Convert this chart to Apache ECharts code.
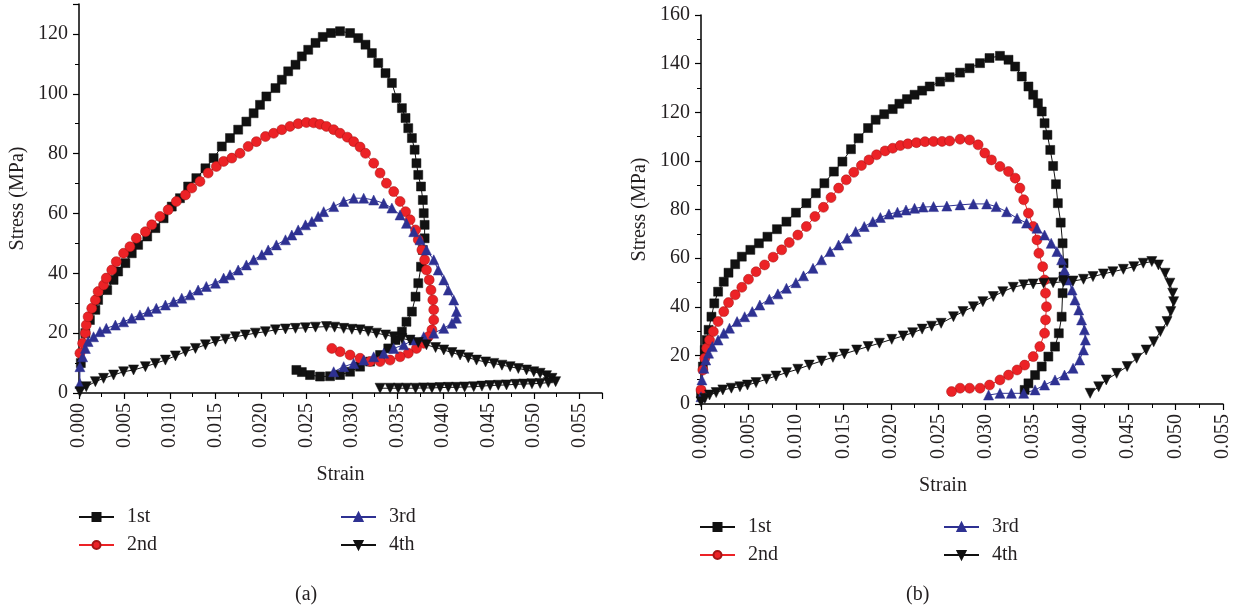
<!DOCTYPE html>
<html>
<head>
<meta charset="utf-8">
<title>Stress-strain</title>
<script src="https://cdn.jsdelivr.net/npm/echarts@6/dist/echarts.min.js"></script>
<style>
  html, body { margin: 0; padding: 0; background: #fff; }
  #main { width: 1241px; height: 612px; }
</style>
</head>
<body>
<div id="main"></div>
<script>
// (a) strain, stress pairs
var a1st = [[0.0002,10],[0.0007,20],[0.0012,24.4],[0.0018,27.8],[0.0021,31.1],[0.0031,34.4],[0.0038,37.8],[0.0043,40.6],[0.0051,43.4],[0.0058,46.7],[0.0065,49.5],[0.0075,52.3],[0.0084,55.1],[0.0093,58.4],[0.0102,62.3],[0.0111,65.1],[0.012,69],[0.0129,71.8],[0.0139,75.1],[0.0148,78.5],[0.0157,82.4],[0.0166,85.2],[0.0175,88],[0.0184,90.7],[0.0192,93.5],[0.0199,96.3],[0.0206,99.1],[0.0216,101.9],[0.0223,104.7],[0.023,107.5],[0.0238,109.7],[0.0245,112.5],[0.0252,114.7],[0.026,117],[0.0268,119],[0.0277,120.3],[0.0287,120.9],[0.0298,120.3],[0.0307,118.6],[0.0315,116.4],[0.0322,113.6],[0.0329,110.3],[0.0337,106.9],[0.0344,103.6],[0.0349,98.6],[0.0355,95.2],[0.0359,91.9],[0.0362,88.5],[0.0366,85.2],[0.0369,81.3],[0.0371,76.8],[0.0373,72.9],[0.0376,69],[0.0378,64.5],[0.0379,60.1],[0.038,56.2],[0.038,51.7],[0.0378,47.8],[0.0376,42.2],[0.0373,36.7],[0.037,32.2],[0.0366,27.2],[0.036,23.8],[0.0355,20.5],[0.0348,17.7],[0.034,14.9],[0.0331,12.7],[0.032,10.5],[0.0309,8.8],[0.0298,7.1],[0.0287,6],[0.0276,5.6],[0.0265,5.5],[0.0254,6],[0.0245,7],[0.0239,7.7]];
var a2nd = [[0.0001,13.3],[0.0004,16.6],[0.0007,20],[0.0008,22.7],[0.001,25.5],[0.0014,28.3],[0.0018,31.1],[0.0021,33.9],[0.0027,36.1],[0.003,38.4],[0.0036,41.1],[0.0041,43.9],[0.0049,46.7],[0.0056,48.9],[0.0063,51.7],[0.0073,53.9],[0.008,56.2],[0.0089,59],[0.0098,61.2],[0.0107,64],[0.0117,66.2],[0.0124,68.5],[0.0133,70.7],[0.0142,73.5],[0.0151,75.7],[0.0159,77.4],[0.0168,78.5],[0.0177,80.1],[0.0186,82.4],[0.0195,84],[0.0205,85.7],[0.0214,86.8],[0.0223,88],[0.0232,89.1],[0.0241,90],[0.025,90.4],[0.0258,90.3],[0.0265,89.8],[0.0272,89.1],[0.028,88],[0.0287,86.8],[0.0295,85.5],[0.0302,84],[0.0309,82.2],[0.0315,80.1],[0.0324,76.8],[0.0331,73.5],[0.0338,70.1],[0.0346,67.3],[0.0353,64],[0.0359,60.6],[0.0364,57.9],[0.037,54.5],[0.0373,51.2],[0.0377,47.8],[0.038,44.5],[0.0382,41.1],[0.0385,37.8],[0.0387,34.4],[0.0389,31.1],[0.039,27.8],[0.039,24.4],[0.0388,21.1],[0.0384,18.8],[0.0379,16.6],[0.0371,14.9],[0.0362,13.3],[0.0353,12.1],[0.0342,11],[0.0331,10.5],[0.032,10.5],[0.0309,11.6],[0.0298,12.7],[0.0287,13.8],[0.0278,14.9]];
var a3rd = [[0.0001,3.2],[0.0001,8.8],[0.0004,12.1],[0.0007,14.9],[0.001,17.2],[0.0016,18.8],[0.0023,20.5],[0.003,21.6],[0.004,22.7],[0.0049,23.8],[0.0058,25],[0.0067,26.1],[0.0076,27.2],[0.0085,28.3],[0.0095,29.4],[0.0104,30.5],[0.0113,31.7],[0.0122,32.8],[0.0131,34.4],[0.014,35.6],[0.015,36.7],[0.0159,38.4],[0.0166,39.5],[0.0175,41.1],[0.0184,42.8],[0.0192,44.5],[0.0201,46.2],[0.0208,47.8],[0.0217,49.5],[0.0227,51.2],[0.0234,52.8],[0.0241,54.5],[0.0249,56.2],[0.0256,57.3],[0.0263,59],[0.0269,60.6],[0.028,62.3],[0.0291,64],[0.0302,65.1],[0.0313,65.1],[0.0324,64.5],[0.0335,63.4],[0.0344,61.8],[0.0353,59.5],[0.036,56.7],[0.0368,53.9],[0.0375,51.2],[0.0382,47.8],[0.039,44.5],[0.0395,41.1],[0.0401,37.8],[0.0406,34.4],[0.0412,31.1],[0.0415,27.2],[0.0415,25],[0.041,23.3],[0.0401,21.6],[0.039,20],[0.0379,18.8],[0.0368,17.7],[0.0357,16.1],[0.0346,14.9],[0.0335,13.3],[0.0324,12.1],[0.0313,11],[0.0302,9.9],[0.0291,8.8],[0.028,7.1]];
var a4th = [[0.0001,0.4],[0.0008,2.1],[0.0018,3.8],[0.0027,4.9],[0.0038,6],[0.0049,7.1],[0.006,7.7],[0.0073,8.8],[0.0084,9.9],[0.0095,11],[0.0106,12.4],[0.0117,13.8],[0.0128,14.9],[0.0139,16.1],[0.015,17.2],[0.0161,18],[0.0172,18.8],[0.0183,19.4],[0.0194,20],[0.0205,20.5],[0.0216,21.1],[0.0227,21.4],[0.0238,21.6],[0.0249,21.8],[0.026,22],[0.0272,22.2],[0.0281,22],[0.0291,21.6],[0.03,21.3],[0.0309,21.1],[0.0318,20.6],[0.0327,20],[0.0337,19.4],[0.0346,18.8],[0.0355,18.2],[0.0364,17.7],[0.0373,16.9],[0.0382,16.1],[0.0392,15.2],[0.0401,14.4],[0.041,13.5],[0.0419,12.7],[0.0428,11.8],[0.0437,11],[0.0447,10.4],[0.0456,9.9],[0.0465,9.3],[0.0474,8.8],[0.0483,8.2],[0.0492,7.7],[0.05,7.1],[0.0507,6.6],[0.0514,5.8],[0.052,4.9],[0.0524,3.8],[0.0516,3.5],[0.0507,3.2],[0.0498,3.1],[0.0489,3],[0.048,2.9],[0.047,2.7],[0.0461,2.6],[0.0452,2.5],[0.0443,2.3],[0.0434,2.1],[0.0424,2],[0.0415,1.9],[0.0406,1.9],[0.0397,1.8],[0.0388,1.7],[0.0379,1.7],[0.037,1.6],[0.036,1.6],[0.0351,1.6],[0.0342,1.6],[0.0331,1.6]];

// (b) strain, stress pairs
var b1st = [[0,4.4],[0.0002,15.4],[0.0004,22.2],[0.0006,26.3],[0.0008,30.5],[0.0011,35.9],[0.0014,41.4],[0.0018,46.2],[0.0024,50.3],[0.0029,54],[0.0036,57.5],[0.0043,60.6],[0.0052,63.4],[0.0061,66.1],[0.007,68.8],[0.008,71.9],[0.009,75],[0.01,78.7],[0.0111,82.6],[0.0121,86.7],[0.013,90.8],[0.014,95.6],[0.0149,99.7],[0.0158,104.8],[0.0166,109.3],[0.0176,113.5],[0.0184,116.9],[0.0193,119.2],[0.0202,121.3],[0.0209,123.5],[0.0217,125.4],[0.0225,127.2],[0.0233,128.9],[0.0241,130.6],[0.0252,132.6],[0.0262,134.4],[0.0273,136.3],[0.0283,138.1],[0.0294,140.2],[0.0304,142.3],[0.0315,143.2],[0.0324,141.6],[0.0331,138.8],[0.0338,134.7],[0.0345,130.6],[0.035,127.2],[0.0355,123.7],[0.0359,120.3],[0.0362,115.5],[0.0365,110.7],[0.0368,104.5],[0.0371,97.9],[0.0374,90.4],[0.0376,82.6],[0.0379,74.6],[0.0381,66.1],[0.0382,57.9],[0.0382,52.4],[0.0381,45.6],[0.038,35.9],[0.0377,29.1],[0.0373,23.6],[0.0366,19.5],[0.0359,15.4],[0.0352,11.9],[0.0345,8.5],[0.0341,5.8]];
var b2nd = [[0,5.8],[0.0002,14],[0.0004,18.8],[0.0006,22.9],[0.0009,26.3],[0.0013,29.8],[0.0018,33.9],[0.0024,38],[0.0029,41.7],[0.0036,44.9],[0.0043,48],[0.005,51.3],[0.0058,54.4],[0.0067,57.2],[0.0076,60.4],[0.0085,63.4],[0.0093,66.4],[0.0102,69.5],[0.0111,73],[0.012,77.1],[0.0129,80.9],[0.0137,84.9],[0.0145,88.8],[0.0153,92.2],[0.0161,95.3],[0.0169,98.1],[0.0177,100.4],[0.0185,102.5],[0.0194,104.1],[0.0202,105.2],[0.021,106.3],[0.0218,107],[0.0227,107.5],[0.0236,107.9],[0.0245,108],[0.0254,108],[0.0262,108.2],[0.0273,108.9],[0.0283,108.6],[0.0292,106.6],[0.0299,103.2],[0.0306,100.4],[0.0315,97.7],[0.0324,95.6],[0.0331,92.9],[0.0336,88.8],[0.034,84],[0.0345,78.5],[0.035,73],[0.0354,67.5],[0.0356,62],[0.036,56.5],[0.0362,51],[0.0363,45.6],[0.0364,40],[0.0363,34.6],[0.0362,29.1],[0.0357,23.6],[0.035,19.5],[0.0341,16],[0.0333,14],[0.0324,11.9],[0.0315,9.9],[0.0304,7.8],[0.0294,6.5],[0.0283,6.5],[0.0273,6.5],[0.0264,5.1]];
var b3rd = [[0,3],[0.0001,9.9],[0.0003,14.7],[0.0005,18.1],[0.0008,20.9],[0.0012,23.6],[0.0018,26.3],[0.0024,29.1],[0.003,31.2],[0.0038,33.9],[0.0046,35.9],[0.0054,38],[0.0062,40.7],[0.0072,43.1],[0.0081,45.3],[0.009,47.6],[0.01,49.9],[0.0108,52.7],[0.0118,55.8],[0.0127,59.3],[0.0136,62.7],[0.0145,65.4],[0.0154,68.2],[0.0163,70.9],[0.0172,73],[0.0181,75],[0.0189,76.7],[0.0198,78.1],[0.0207,78.9],[0.0216,79.8],[0.0225,80.5],[0.0234,81],[0.0245,81.2],[0.0259,81.4],[0.0273,81.9],[0.0287,82.3],[0.0301,82.3],[0.0311,81.2],[0.0322,79.1],[0.0333,76.4],[0.0343,74.4],[0.0354,72.3],[0.0362,69.5],[0.0369,66.1],[0.0375,62.7],[0.038,59.3],[0.0383,55.1],[0.0387,51],[0.0391,46.9],[0.0394,42.8],[0.0398,38.7],[0.0401,34.6],[0.0404,30.5],[0.0405,26.3],[0.0403,22.2],[0.0399,18.1],[0.0392,14.7],[0.0383,11.9],[0.0373,9.9],[0.0362,7.8],[0.0352,5.8],[0.034,4.4],[0.0327,4.4],[0.0315,4.4],[0.0303,3.7]];
var b4th = [[0,0.9],[0.0004,2.3],[0.0009,3.7],[0.0016,4.7],[0.0023,5.8],[0.0032,6.5],[0.0041,7.1],[0.0049,7.8],[0.0058,8.8],[0.0069,10.2],[0.0079,11.5],[0.009,12.9],[0.0102,14.3],[0.0114,16],[0.0127,17.7],[0.0139,19.2],[0.0151,20.6],[0.0164,22.2],[0.0176,23.6],[0.0188,25],[0.0201,26.6],[0.0213,28],[0.0223,29.3],[0.0233,30.8],[0.0243,32],[0.0253,33.2],[0.0266,35.9],[0.0276,38],[0.0287,40],[0.0297,42.1],[0.0308,44.2],[0.0318,46.2],[0.0329,48],[0.034,49],[0.035,49.4],[0.0361,49.7],[0.0371,49.9],[0.0382,50.3],[0.0392,50.6],[0.0403,51.3],[0.0413,52.4],[0.0424,53.5],[0.0434,54.4],[0.0445,55.4],[0.0456,56.5],[0.0466,57.9],[0.0475,58.6],[0.0482,57.2],[0.0489,53.8],[0.0494,49.7],[0.0497,45.6],[0.0498,42.1],[0.0495,38],[0.0491,33.9],[0.0484,29.8],[0.0477,25.6],[0.0469,22.2],[0.0459,18.8],[0.0449,15.4],[0.0438,12.6],[0.0427,9.9],[0.0419,7.1],[0.041,4.4]];

var names = ['1st', '2nd', '3rd', '4th'];

var FONT = '"Liberation Serif", "DejaVu Serif", serif';
var INK = '#231f20';
var colors = ['#111111', '#ec2226', '#2e3192', '#111111'];
var symbols = ['rect', 'circle', 'triangle', 'triangle'];
var rotates = [0, 0, 0, 180];
var sizes = [9, 10, 10, 10];

function makeSeries(data, i, k) {
  return {
    name: names[i],
    type: 'line',
    xAxisIndex: k,
    yAxisIndex: k,
    data: data,
    symbol: symbols[i],
    symbolRotate: rotates[i],
    symbolSize: sizes[i],
    showAllSymbol: true,
    animation: false,
    lineStyle: { color: colors[i], width: 1 },
    itemStyle: { color: colors[i], borderColor: i == 1 ? '#a31515' : colors[i], borderWidth: 0.5 }
  };
}

function xAxis(k, max) {
  return {
    type: 'value', gridIndex: k, min: 0, max: max, interval: 0.005,
    name: 'Strain', nameLocation: 'middle', nameGap: 72,
    nameTextStyle: { fontFamily: FONT, fontSize: 20, color: INK, padding: k ? [0, 38, 0, 0] : 0 },
    axisLine: { lineStyle: { color: '#000', width: 1.5 } },
    axisTick: { length: 6, lineStyle: { color: '#000', width: 1.2 } },
    minorTick: { show: true, splitNumber: 2, length: 4, lineStyle: { color: '#000', width: 1 } },
    splitLine: { show: false },
    axisLabel: {
      rotate: 90, margin: 10, fontFamily: FONT, fontSize: 20, color: INK,
      showMaxLabel: k == 1,
      formatter: function (v) { return v.toFixed(3); }
    }
  };
}

function yAxis(k, max) {
  return {
    type: 'value', gridIndex: k, min: 0, max: max, interval: 20,
    name: 'Stress (MPa)', nameLocation: 'middle', nameGap: 51,
    nameTextStyle: { fontFamily: FONT, fontSize: 20, color: INK },
    axisLine: { show: true, lineStyle: { color: '#000', width: 1.5 } },
    axisTick: { length: 6, lineStyle: { color: '#000', width: 1.2 } },
    minorTick: { show: true, splitNumber: 2, length: 4, lineStyle: { color: '#000', width: 1 } },
    splitLine: { show: false },
    axisLabel: { margin: 11, fontFamily: FONT, fontSize: 20, color: INK, showMaxLabel: k == 1 }
  };
}

function legend(left, top, data) {
  return {
    left: left, top: top, orient: 'vertical', data: data, padding: 0,
    itemWidth: 35, itemHeight: 10, itemGap: 8,
    selectedMode: false,
    textStyle: { fontFamily: FONT, fontSize: 20, color: INK, padding: [0, 0, 0, 8] }
  };
}

var series = [];
[a1st, a2nd, a3rd, a4th].forEach(function (d, i) { series.push(makeSeries(d, i, 0)); });
[b1st, b2nd, b3rd, b4th].forEach(function (d, i) { series.push(makeSeries(d, i, 1)); });

var chart = echarts.init(document.getElementById('main'), null, { renderer: 'canvas' });
chart.setOption({
  backgroundColor: '#fff',
  animation: false,
  title: [
    { text: '(a)', left: 290, top: 580, textStyle: { fontFamily: FONT, fontSize: 20, fontWeight: 'normal', color: INK } },
    { text: '(b)', left: 901, top: 580, textStyle: { fontFamily: FONT, fontSize: 20, fontWeight: 'normal', color: INK } }
  ],
  grid: [
    { left: 79, top: 4, width: 523, height: 389 },
    { left: 701, top: 15, width: 522, height: 389 }
  ],
  xAxis: [xAxis(0, 0.0575), xAxis(1, 0.055)],
  yAxis: [yAxis(0, 130), yAxis(1, 160)],
  legend: [
    legend(78, 507, ['1st', '2nd']),
    legend(340, 507, ['3rd', '4th']),
    legend(699, 517, ['1st', '2nd']),
    legend(943, 517, ['3rd', '4th'])
  ],
  series: series
});
</script>
</body>
</html>
